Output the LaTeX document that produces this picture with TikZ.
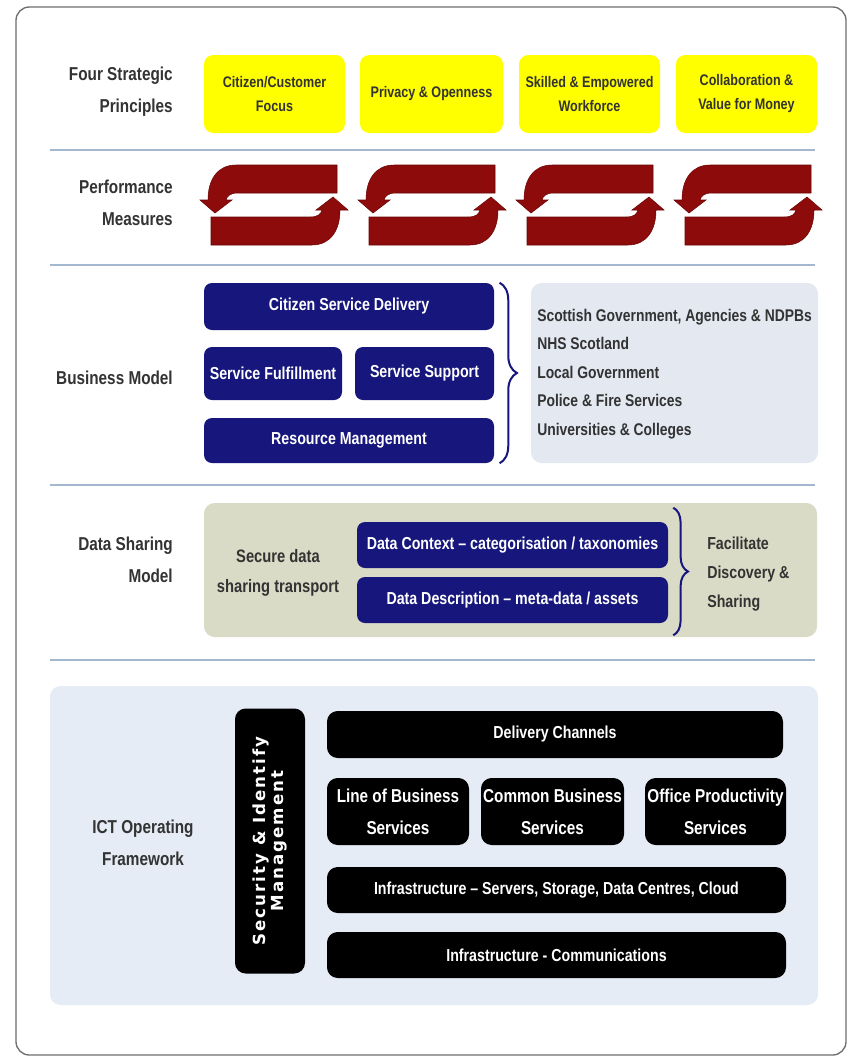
\documentclass[tikz,border=0pt]{standalone}
\usepackage{fontspec}
\setmainfont{Liberation Sans}[FakeStretch=0.82]
\newfontfamily\vfont{DejaVu Sans}[LetterSpace=12]
\usetikzlibrary{decorations.pathreplacing}
\definecolor{cYlw}{HTML}{FFFF00}
\definecolor{cNavy}{HTML}{16167C}
\definecolor{cTxt}{HTML}{333333}
\definecolor{cSep}{HTML}{A3B7CF}
\definecolor{cLpan}{HTML}{E3E8F1}
\definecolor{cKpan}{HTML}{DADBC6}
\definecolor{cIpan}{HTML}{E6ECF5}
\definecolor{cArr}{HTML}{8E0B0B}
\definecolor{cArrD}{HTML}{6A0505}
\definecolor{cFrm}{HTML}{6E6E6E}
\newcommand\pbox[7]{\node[#2, minimum width={(#5-#3)*0.75pt}, minimum height={(#6-#4)*0.75pt}] (#1) at ({(#3+#5)/2},{(#4+#6)/2}) {#7};}
\begin{document}
\begin{tikzpicture}[x=0.75pt,y=-0.75pt,
  every node/.style={inner sep=0pt},
  ybox/.style={fill=cYlw, rounded corners=7pt, text=cTxt, align=center, font=\fontsize{11.5}{18}\selectfont\bfseries},
  nbox/.style={fill=cNavy, rounded corners=6pt, text=white, align=center, font=\fontsize{13}{20}\selectfont\bfseries},
  kbox/.style={fill=black, rounded corners=8pt, text=white, align=center, font=\fontsize{13}{24}\selectfont\bfseries},
  kboxb/.style={kbox, font=\fontsize{14}{24}\selectfont\bfseries},
  lbl/.style={text=cTxt, align=right, anchor=east, font=\fontsize{14}{24}\selectfont\bfseries},
  ptxt/.style={text=cTxt, font=\fontsize{12.7}{21.4}\selectfont\bfseries},
  lpanel/.style={fill=cLpan, rounded corners=8pt},
  kpanel/.style={fill=cKpan, rounded corners=8pt},
  ipanel/.style={fill=cIpan, rounded corners=8pt},
  sepline/.style={draw=cSep, line width=1.6pt},
  brc/.style={draw=cNavy, line width=1.5pt, decorate, decoration={brace, amplitude=13pt}},
  cyc/.style={fill=cArr, draw=cArrD, line width=0.4pt}]
\useasboundingbox (0,0) rectangle (848,1057);
\fill[white] (0,0) rectangle (848,1057);
\draw[cFrm, line width=1pt, rounded corners=10pt] (16,7) rectangle (846,1055);

% Row 1
\node[lbl] (l1) at (173,92) {Four Strategic\\Principles};
\pbox{y1}{ybox}{204}{55}{345}{133}{Citizen/Customer\\Focus}
\pbox{y2}{ybox}{360}{55}{503}{133}{Privacy \& Openness}
\pbox{y3}{ybox}{519}{55}{660}{133}{Skilled \& Empowered\\Workforce}
\pbox{y4}{ybox}{676}{55}{817}{133}{Collaboration \&\\Value for Money}
\draw[sepline] (50,150) -- (815,150);

% Row 2
\node[lbl] (l2) at (173,203) {Performance\\Measures};
\foreach \dx in {200,358,516,674}{
  \begin{scope}[shift={(\dx,165)}]
    \path[cyc] (137,0) -- (137,28) -- (38,28) .. controls (30,28) and (27,31) .. (26,35) -- (32,35) -- (15,48) -- (0,35) -- (8,35) .. controls (8,14) and (18,0) .. (36,0) -- cycle;
    \path[cyc, rotate around={180:(74,40)}] (137,0) -- (137,28) -- (38,28) .. controls (30,28) and (27,31) .. (26,35) -- (32,35) -- (15,48) -- (0,35) -- (8,35) .. controls (8,14) and (18,0) .. (36,0) -- cycle;
  \end{scope}
}
\draw[sepline] (50,265) -- (815,265);

% Row 3
\node[lbl] (l3) at (173,378) {Business Model};
\pbox{csd}{nbox}{204}{283}{494}{330}{Citizen Service Delivery}
\pbox{sf}{nbox}{204}{347}{342}{400}{Service Fulfillment}
\pbox{ss}{nbox}{355}{347}{494}{400}{Service Support}
\pbox{rm}{nbox}{204}{418}{494}{463}{Resource Management}
\draw[brc] ([xshift=4pt]csd.north east) -- ([xshift=4pt]rm.south east);
\pbox{orgs}{lpanel}{531}{283}{818}{463}{}
\node[ptxt, anchor=west, align=left] (orgt) at (537,374) {Scottish Government, Agencies \& NDPBs\\NHS Scotland\\Local Government\\Police \& Fire Services\\Universities \& Colleges};
\draw[sepline] (50,485) -- (815,485);

% Row 4
\node[lbl] (l4) at (173,560) {Data Sharing\\Model};
\pbox{dsp}{kpanel}{204}{503}{817}{637}{}
\node[text=cTxt, align=center, font=\fontsize{13.5}{22}\selectfont\bfseries] (sdt) at (278,573) {Secure data\\sharing transport};
\pbox{dc}{nbox}{357}{522}{668}{568}{Data Context -- categorisation / taxonomies}
\pbox{dd}{nbox}{357}{577}{668}{623}{Data Description -- meta-data / assets}
\draw[brc, decoration={brace, amplitude=11pt}] ([shift={(5,-14)}]dc.north east) -- ([shift={(5,12)}]dd.south east);
\node[text=cTxt, anchor=west, align=left, font=\fontsize{13}{22}\selectfont\bfseries] (fac) at (707,574) {Facilitate\\Discovery \&\\Sharing};
\draw[sepline] (50,660) -- (815,660);

% Row 5
\pbox{ict}{ipanel}{50}{686}{818}{1005}{}
\node[text=cTxt, align=center, font=\fontsize{14}{24}\selectfont\bfseries] (l5) at (143,843) {ICT Operating\\Framework};
\node[kbox, rotate=90, minimum width={265*0.75pt}, minimum height={70*0.75pt}, font=\vfont\fontsize{12.5}{10.5}\selectfont\bfseries] (sim) at (270,841) {Security \& Identify\\Management};
\pbox{dch}{kbox}{327}{711}{783}{758}{Delivery Channels}
\pbox{lob}{kboxb}{327}{778}{469}{845}{Line of Business\\Services}
\pbox{cbs}{kboxb}{481}{778}{624}{845}{Common Business\\Services}
\pbox{ops}{kboxb}{645}{778}{786}{845}{Office Productivity\\Services}
\pbox{ifs}{kbox}{327}{867}{786}{913}{Infrastructure -- Servers, Storage, Data Centres, Cloud}
\pbox{ifc}{kbox}{327}{932}{786}{978}{Infrastructure - Communications}
\end{tikzpicture}
\end{document}
